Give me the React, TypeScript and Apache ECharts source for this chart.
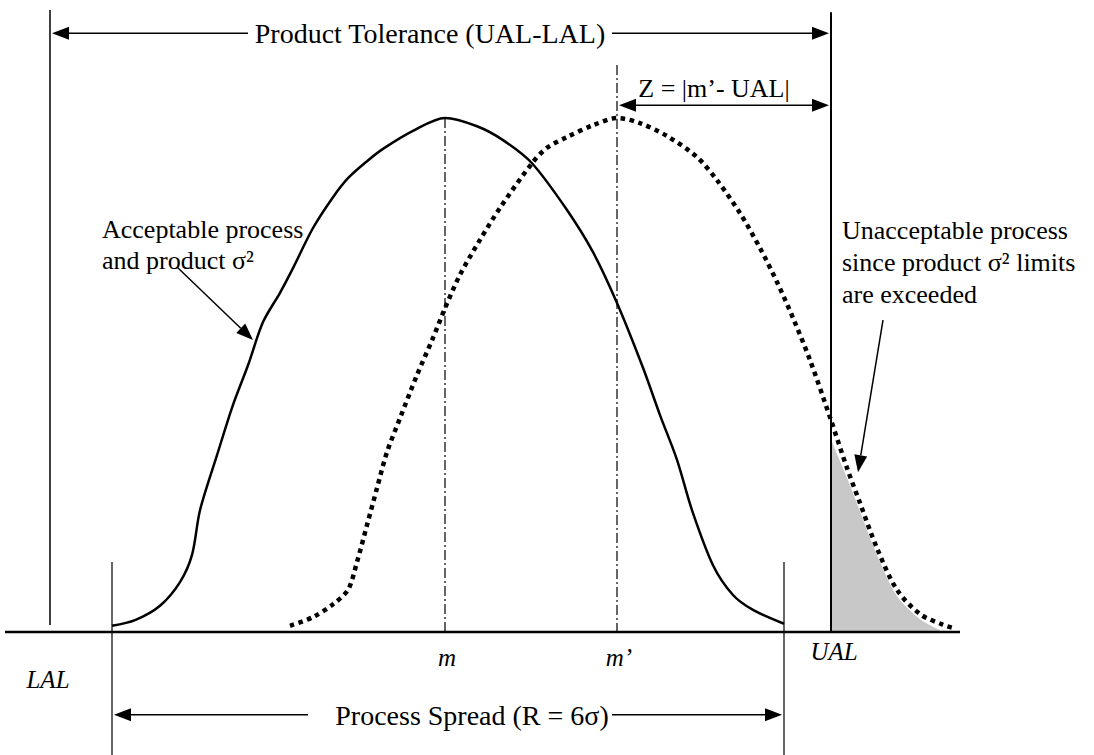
import React, { useEffect, useRef } from 'react';
import * as echarts from 'echarts';

// Horizontal position (arbitrary units) and relative density (peak = 1) of the acceptable process curve
const processX = [11.2, 13.5, 16.0, 18.0, 19.2, 20.0, 21.7, 23.3, 24.8, 26.3, 28.0, 29.3, 31.3, 33.3, 34.8, 36.7, 38.3, 41.3, 44.5, 47.7, 50.3, 53.2, 56.7, 59.3, 61.7, 64.3, 66.0, 67.7, 69.2, 71.3, 73.3, 75.3, 78.4];
const processY = [0.012, 0.023, 0.051, 0.097, 0.15, 0.237, 0.344, 0.442, 0.519, 0.603, 0.66, 0.708, 0.786, 0.846, 0.883, 0.916, 0.94, 0.975, 1.0, 0.984, 0.957, 0.912, 0.821, 0.739, 0.64, 0.514, 0.422, 0.335, 0.237, 0.13, 0.072, 0.043, 0.016];

// Shifted (unacceptable) process curve
const shiftedX = [29.0, 31.3, 33.3, 34.8, 35.7, 36.7, 37.7, 38.7, 40.0, 41.7, 43.3, 44.5, 46.0, 48.0, 50.0, 53.2, 54.7, 56.7, 59.3, 61.7, 64.0, 66.7, 69.7, 71.7, 74.0, 76.0, 77.7, 79.3, 81.0, 83.1, 84.7, 86.0, 87.7, 89.7, 92.0, 94.3, 95.3];
const shiftedY = [0.012, 0.029, 0.054, 0.082, 0.136, 0.208, 0.28, 0.35, 0.416, 0.5, 0.572, 0.63, 0.695, 0.763, 0.825, 0.912, 0.942, 0.963, 0.986, 1.0, 0.99, 0.965, 0.924, 0.879, 0.815, 0.747, 0.681, 0.611, 0.529, 0.412, 0.319, 0.251, 0.163, 0.082, 0.035, 0.014, 0.008];

// Portion beyond UAL (shaded)
const excessX = [83.1, 84.7, 86.0, 87.7, 89.7, 92.0, 94.0];
const excessY = [0.374, 0.3, 0.235, 0.15, 0.07, 0.025, 0.004];

// Key positions
const LAL = 5.0;
const UAL = 83.1;
const M = 44.5;
const M_PRIME = 61.7;
const SPREAD_LO = 11.2;
const SPREAD_HI = 78.4;

// Axis ranges
const X_MAX = 109.4;
const Y_MIN = -0.2393;
const Y_MAX = 1.2296;

// Tick labels under the baseline
const tickLabels = ['LAL', 'm', 'm\u2019', 'UAL'];
const tickX = [4.8, 44.7, 61.9, 83.4];
const tickY = [-0.092, -0.05, -0.05, -0.037];

const SERIF = '"Liberation Serif", "Times New Roman", serif';

export default function App() {
  const ref = useRef<HTMLDivElement>(null);

  useEffect(() => {
    const chart = echarts.init(ref.current as HTMLDivElement, null, { renderer: 'svg' });
    const zip = (xs: number[], ys: number[]) => xs.map((x, i) => [x, ys[i]]);

    chart.setOption({
      animation: false,
      backgroundColor: '#ffffff',
      grid: { left: 0, right: 0, top: 0, bottom: 0 },
      xAxis: { type: 'value', min: 0, max: X_MAX, show: false },
      yAxis: { type: 'value', min: Y_MIN, max: Y_MAX, show: false },
      series: [
        {
          type: 'line',
          data: zip(excessX, excessY),
          symbol: 'none',
          smooth: 0.3,
          lineStyle: { width: 0 },
          areaStyle: { color: '#c8c8c8', opacity: 1 },
          z: 1,
          silent: true,
        },
        {
          type: 'line',
          data: zip(processX, processY),
          symbol: 'none',
          smooth: 0.3,
          lineStyle: { color: '#000', width: 2.5 },
          z: 3,
          silent: true,
        },
        {
          type: 'line',
          data: zip(shiftedX, shiftedY),
          symbol: 'none',
          smooth: 0.3,
          lineStyle: { color: '#000', width: 4.5, type: [4.5, 4.5], cap: 'butt' },
          z: 3,
          silent: true,
        },
      ],
    });

    const P = (x: number, y: number) => chart.convertToPixel({ gridIndex: 0 }, [x, y]) as number[];
    const els: any[] = [];

    const seg = (a: number[], b: number[], w: number, dash?: number[]) => {
      const p1 = P(a[0], a[1]);
      const p2 = P(b[0], b[1]);
      els.push({
        type: 'line',
        z: 10,
        silent: true,
        shape: { x1: p1[0], y1: p1[1], x2: p2[0], y2: p2[1] },
        style: { stroke: '#000', lineWidth: w, lineDash: dash },
      });
    };

    const arrow = (from: number[], to: number[], w: number, both: boolean, len = 17, hw = 6.5) => {
      const a = P(from[0], from[1]);
      const b = P(to[0], to[1]);
      const dx = b[0] - a[0];
      const dy = b[1] - a[1];
      const d = Math.hypot(dx, dy);
      const ux = dx / d;
      const uy = dy / d;
      const head = (tip: number[], sx: number, sy: number) => {
        const bx = tip[0] - sx * len;
        const by = tip[1] - sy * len;
        els.push({
          type: 'polygon',
          z: 10,
          silent: true,
          shape: { points: [[tip[0], tip[1]], [bx - sy * hw, by + sx * hw], [bx + sy * hw, by - sx * hw]] },
          style: { fill: '#000' },
        });
      };
      const s1 = both ? [a[0] + ux * len, a[1] + uy * len] : a;
      const s2 = [b[0] - ux * len, b[1] - uy * len];
      els.push({
        type: 'line',
        z: 10,
        silent: true,
        shape: { x1: s1[0], y1: s1[1], x2: s2[0], y2: s2[1] },
        style: { stroke: '#000', lineWidth: w },
      });
      head(b, ux, uy);
      if (both) head(a, -ux, -uy);
    };

    const text = (t: string, x: number, y: number, size: number, align = 'center', italic = false) => {
      const p = P(x, y);
      els.push({
        type: 'text',
        z: 11,
        silent: true,
        x: p[0],
        y: p[1],
        style: {
          text: t,
          fill: '#000',
          fontSize: size,
          fontFamily: SERIF,
          fontStyle: italic ? 'italic' : 'normal',
          align,
          verticalAlign: 'middle',
        },
      });
    };

    // Baseline and limit lines
    seg([0.5, 0], [96.0, 0], 2.5);
    seg([LAL, 1.21], [LAL, 0.0136], 1.5);
    seg([UAL, 1.206], [UAL, 0], 2);
    seg([SPREAD_LO, 0.136], [SPREAD_LO, Y_MIN], 1.2);
    seg([SPREAD_HI, 0.136], [SPREAD_HI, Y_MIN], 1.2);
    seg([M, 1.0], [M, 0], 1.2, [10, 3, 2, 3]);
    seg([M_PRIME, 1.103], [M_PRIME, 0], 1.2, [10, 3, 2, 3]);

    // Product tolerance
    arrow([24.8, 1.165], [LAL + 0.2, 1.165], 1.5, false);
    arrow([61.2, 1.165], [UAL - 0.2, 1.165], 1.5, false);
    text('Product Tolerance (UAL-LAL)', 43.0, 1.165, 28);

    // Z
    arrow([M_PRIME + 0.2, 1.025], [UAL - 0.2, 1.025], 1.5, true);
    text('Z = |m\u2019- UAL|', 71.4, 1.058, 26);

    // Process spread
    arrow([30.8, -0.161], [SPREAD_LO + 0.2, -0.161], 1.5, false);
    arrow([61.2, -0.161], [SPREAD_HI - 0.2, -0.161], 1.5, false);
    text('Process Spread (R = 6\u03C3)', 47.2, -0.163, 28);

    // Annotations
    text('Acceptable process', 10.2, 0.784, 26, 'left');
    text('and product \u03C3\u00B2', 10.2, 0.722, 26, 'left');
    arrow([17.7, 0.71], [25.3, 0.568], 1.5, false, 17, 6.5);

    text('Unacceptable process', 84.2, 0.782, 26, 'left');
    text('since product \u03C3\u00B2 limits', 84.2, 0.718, 26, 'left');
    text('are exceeded', 84.2, 0.656, 26, 'left');
    arrow([88.3, 0.607], [85.8, 0.311], 1.5, false, 17, 6.5);

    // Tick labels
    tickLabels.forEach((t, i) => text(t, tickX[i], tickY[i], 25, 'center', true));

    chart.setOption({ graphic: { elements: els } });

    return () => chart.dispose();
  }, []);

  return (
    <div
      ref={ref}
      style={{ position: 'absolute', left: 0, top: 0, width: 1094, height: 755, background: '#fff' }}
    />
  );
}
